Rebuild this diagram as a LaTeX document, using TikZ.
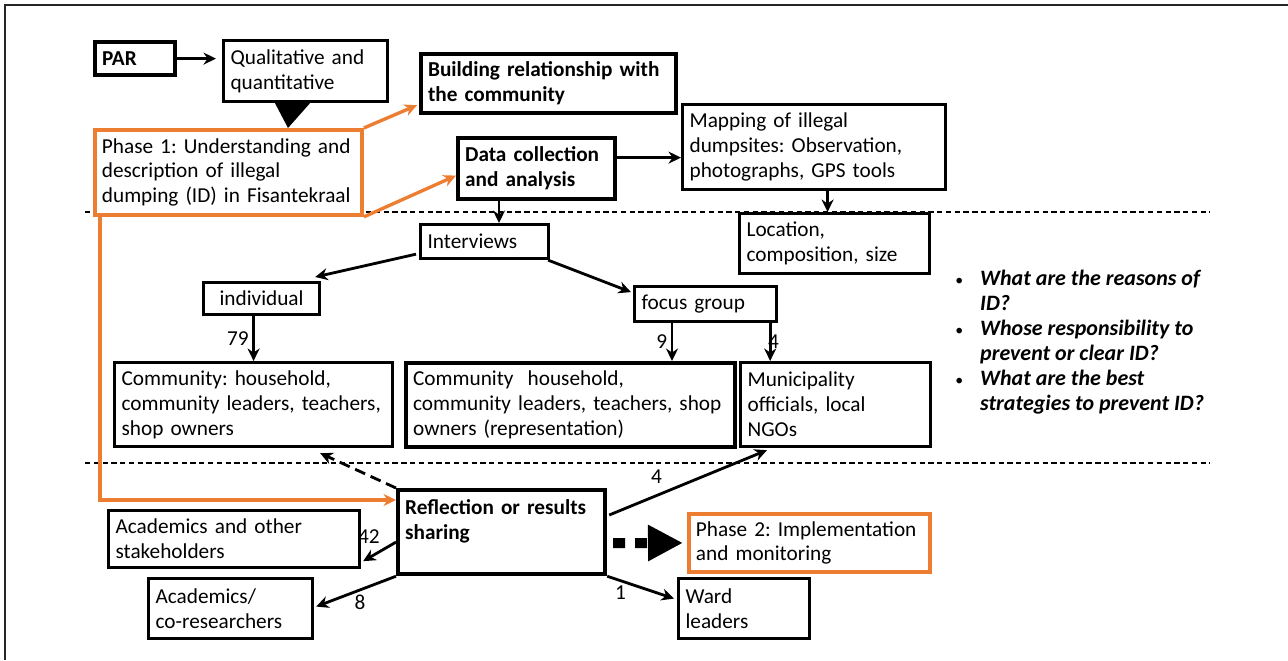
\documentclass[tikz,border=0pt]{standalone}
\usepackage{fontspec}
\setmainfont{Carlito}
\usetikzlibrary{arrows.meta,calc}
\frenchspacing
\newlength{\du}
\setlength{\du}{0.02cm}
\definecolor{phaseorange}{rgb}{0.929,0.490,0.192}
\definecolor{framegray}{rgb}{0.15,0.15,0.15}
\newcommand{\boxfont}{\fontsize{12.1pt}{14.2pt}\selectfont}
\tikzset{
  box/.style={draw=black, fill=white, line width=1.8pt, anchor=north west, align=left,
    inner xsep=7\du, inner ysep=0pt, font=\boxfont},
  boldbox/.style={box, line width=2.4pt, font=\boxfont\bfseries},
  phasebox/.style={box, draw=phaseorange, line width=2.2pt},
  link/.style={line width=1.6pt, -{Stealth[length=0.25cm,width=0.24cm]}},
  phaselink/.style={link, line width=1.9pt, draw=phaseorange},
  count/.style={font=\boxfont, inner sep=2pt}
}

\begin{document}
\begin{tikzpicture}[yscale=-1]
\useasboundingbox (0,0) rectangle (1288\du,660\du);
% frame and section lines
\draw[line width=0.8pt, framegray] (5\du,660\du) -- (5\du,5\du) -- (1288\du,5\du);
\draw[line width=0.6pt, dash pattern=on 3pt off 2pt] (85\du,212\du) -- (1210\du,212\du);
\draw[line width=0.6pt, dash pattern=on 3pt off 2pt] (85\du,463\du) -- (1210\du,463\du);

% boxes
\node[boldbox, text width=66\du, minimum height=33\du] (par) at (93\du,40\du) {PAR};
\node[box, text width=150\du, minimum height=61\du] (qual) at (222\du,39\du) {Qualitative and\\quantitative};
\node[phasebox, text width=253\du, minimum height=85\du] (phaseone) at (93\du,128\du)
  {Phase 1: Understanding and\\description of illegal\\dumping (ID) in Fisantekraal};
\node[boldbox, text width=241\du, minimum height=59\du] (build) at (419\du,52\du) {Building relationship with\\the community};
\node[boldbox, text width=143\du, minimum height=61\du] (data) at (456\du,136\du) {Data collection\\and analysis};
\node[box, text width=249\du, minimum height=85\du] (mapping) at (681\du,103\du)
  {Mapping of illegal\\dumpsites: Observation,\\photographs, GPS tools};
\node[box, text width=176\du, minimum height=60\du] (location) at (738\du,212\du) {Location,\\composition, size};
\node[box, text width=114\du, minimum height=34\du] (interviews) at (419\du,223\du) {Interviews};
\node[box, align=center, text width=102\du, minimum height=32\du] (indiv) at (202\du,281\du) {individual};
\node[box, text width=128\du, minimum height=35\du] (focus) at (633\du,285\du) {focus group};
\node[box, text width=264\du, minimum height=84\du] (commone) at (113\du,361\du)
  {Community: household,\\community leaders, teachers,\\shop owners};
\node[box, line width=2.4pt, text width=315\du, minimum height=84\du] (commtwo) at (404\du,361\du)
  {Community~ household,\\community leaders, teachers, shop\\owners (representation)};
\node[box, text width=176\du, minimum height=84\du] (munic) at (739\du,361\du) {Municipality\\officials, local\\NGOs};
\node[boldbox, text width=193\du, minimum height=84\du] (reflect) at (396\du,488\du) {Reflection or results\\sharing\\~};
\node[box, text width=237\du, minimum height=57\du] (acadother) at (107\du,509\du) {Academics and other\\stakeholders};
\node[box, text width=150\du, minimum height=60\du] (acadco) at (147\du,577\du) {Academics/\\co-researchers};
\node[phasebox, text width=227\du, minimum height=58\du] (phasetwo) at (687\du,512\du) {Phase 2: Implementation\\and monitoring};
\node[box, text width=117\du, minimum height=60\du] (ward) at (677\du,577\du) {Ward\\leaders};
\node[anchor=north west, inner sep=0pt, font=\fontsize{12.5pt}{14.2pt}\selectfont\bfseries\itshape] (questions) at (955\du,268\du)
  {\begin{tabular}{@{}l@{\hspace{17\du}}l@{}}
   {\normalfont\small\textbullet} & What are the reasons of\\
   & ID?\\
   {\normalfont\small\textbullet} & Whose responsibility to\\
   & prevent or clear ID?\\
   {\normalfont\small\textbullet} & What are the best\\
   & strategies to prevent ID?
   \end{tabular}};

% top part
\draw[link, shorten >=0.12cm] (par.east) -- (par.east -| qual.west);
\coordinate (qualtip) at ($(qual.south west)+(66\du,0)$);
\fill (qualtip) ++(-13\du,0) -- ++(35\du,0) -- (qualtip |- phaseone.north) -- cycle;
\draw[phaselink] (phaseone.north east) -- ($(build.south west)+(-2\du,-10\du)$);
\draw[phaselink] (phaseone.south east) -- ($(data.west)+(0,7\du)$);
\draw[phaselink] ($(phaseone.south west)+(7\du,0)$) |- ($(reflect.north west)+(0,12\du)$);
\coordinate (dataout) at ($(data.east)+(0,-11\du)$);
\draw[link] (dataout) -- (dataout -| mapping.west);
\coordinate (locin) at ($(location.north)+(-7\du,0)$);
\draw[link] (locin |- mapping.south) -- (locin);
\coordinate (datadown) at ($(data.south west)+(43\du,0)$);
\draw[link] (datadown) -- (datadown |- interviews.north);

% interviews
\draw[link] ($(interviews.south west)+(-3\du,-6\du)$) -- ($(indiv.north east)+(-6\du,-4\du)$);
\draw[link] ($(interviews.south east)+(-2\du,0)$) -- ($(focus.west)+(-2\du,-12\du)$);
\coordinate (indivdown) at ($(indiv.south)+(-8\du,0)$);
\draw[link] (indivdown) -- node[count, left] {79} (indivdown |- commone.north);
\coordinate (focusleft) at ($(focus.south west)+(39\du,0)$);
\draw[link] (focusleft) -- node[count, left] {9} (focusleft |- commtwo.north);
\coordinate (focusright) at ($(focus.south east)+(-8\du,0)$);
\draw[link] (focusright) -- node[count, right, xshift=-4pt] {4} (focusright |- munic.north);

% results sharing
\draw[link, dash pattern=on 0.22cm off 0.12cm] (reflect.north west) -- ($(commone.south east)+(-74\du,5\du)$);
\draw[link] ($(reflect.north east)+(2\du,27\du)$) -- node[count, pos=0.3, above, yshift=4pt] {4} ($(munic.south west)+(28\du,2\du)$);
\draw[link] ($(reflect.west)+(0,10\du)$) -- node[count, pos=0.35, anchor=south east] {42} ($(acadother.south east)+(2\du,-8\du)$);
\draw[link] (reflect.south west) -- node[count, pos=0.45, below] {8} ($(acadco.east)+(2\du,-2\du)$);
\draw[link] (reflect.south east) -- node[count, pos=0.2, below] {1} ($(ward.west)+(-3\du,-10\du)$);
\draw[line width=0.2cm, dash pattern=on 0.24cm off 0.2cm, -{Triangle[length=0.7cm 0 0,width=0.68cm 0 0]}]
  ($(reflect.east)+(6\du,11\du)$) -- ($(phasetwo.west)+(-4\du,0)$);
\end{tikzpicture}
\end{document}
